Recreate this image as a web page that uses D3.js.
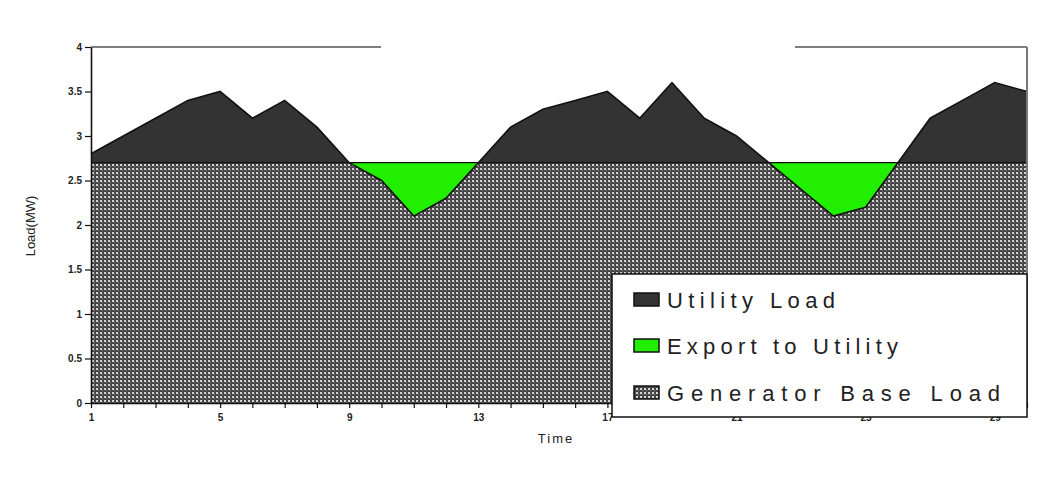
<!DOCTYPE html>
<html>
<head>
<meta charset="utf-8">
<script src="https://cdn.jsdelivr.net/npm/d3@7"></script>
<style>
  html, body { margin: 0; padding: 0; background: #fff; }
  svg { display: block; }
</style>
</head>
<body>
<svg id="chart" width="1064" height="484"></svg>
<script>
// ---- data ----
const timeSteps = d3.range(1, 31);
const utilityLoad = [2.8, 3.0, 3.2, 3.4, 3.5, 3.2, 3.4, 3.1, 2.7, 2.5,
                     2.1, 2.3, 2.7, 3.1, 3.3, 3.4, 3.5, 3.2, 3.6, 3.2,
                     3.0, 2.7, 2.4, 2.1, 2.2, 2.7, 3.2, 3.4, 3.6, 3.5];
const generatorBase = timeSteps.map(() => 2.7);
const yTicks = [0, 0.5, 1, 1.5, 2, 2.5, 3, 3.5, 4];
const xLabelTicks = [1, 5, 9, 13, 17, 21, 25, 29];
const legendLabels = ["Utility Load", "Export to Utility", "Generator Base Load"];

const data = timeSteps.map((t, i) => ({t, load: utilityLoad[i], base: generatorBase[i]}));

const svg = d3.select("#chart");
const x = d3.scaleLinear().domain([1, 30]).range([91, 1027]);
const y = d3.scaleLinear().domain([0, 4]).range([403, 47]);

const defs = svg.append("defs");
const pat = defs.append("pattern").attr("id", "dots")
  .attr("patternUnits", "userSpaceOnUse").attr("width", 4).attr("height", 4);
pat.append("rect").attr("width", 4).attr("height", 4).attr("fill", "#454545");
pat.append("rect").attr("x", 0).attr("y", 0).attr("width", 2).attr("height", 2).attr("fill", "#d4d4d4");
pat.append("rect").attr("x", 2).attr("y", 2).attr("width", 1).attr("height", 1).attr("fill", "#8a8a8a");

// Utility load (dark) area
svg.append("path").datum(data)
  .attr("d", d3.area().x(d => x(d.t)).y0(y(0)).y1(d => y(d.load)))
  .attr("fill", "#333");

// Generator base load (pattern)
svg.append("path").datum(data)
  .attr("d", d3.area().x(d => x(d.t)).y0(y(0)).y1(d => y(d.base)))
  .attr("fill", "url(#dots)");

// Export to utility (green)
svg.append("path").datum(data)
  .attr("d", d3.area().x(d => x(d.t)).y0(d => y(d.base)).y1(d => y(Math.min(d.load, d.base))))
  .attr("fill", "#22ee00");

// base line
svg.append("path").datum(data)
  .attr("d", d3.line().x(d => x(d.t)).y(d => y(d.base)))
  .attr("fill", "none").attr("stroke", "#111").attr("stroke-width", 1.2);

// load line
svg.append("path").datum(data)
  .attr("d", d3.line().x(d => x(d.t)).y(d => y(d.load)))
  .attr("fill", "none").attr("stroke", "#111").attr("stroke-width", 1.6);

// frame (top / right)
svg.append("line").attr("x1", 91).attr("x2", 381).attr("y1", 47).attr("y2", 47)
  .attr("stroke", "#555").attr("stroke-width", 1.3);
svg.append("line").attr("x1", 795).attr("x2", 1027).attr("y1", 47).attr("y2", 47)
  .attr("stroke", "#555").attr("stroke-width", 1.3);
svg.append("line").attr("x1", 1027).attr("x2", 1027).attr("y1", 47).attr("y2", 403)
  .attr("stroke", "#777").attr("stroke-width", 2);

// axes
const yAxis = svg.append("g").attr("transform", "translate(91,0)")
  .call(d3.axisLeft(y).tickValues(yTicks).tickSize(6).tickSizeOuter(0).tickPadding(3)
        .tickFormat(d => String(d)));
const xAxis = svg.append("g").attr("transform", "translate(0,403)")
  .call(d3.axisBottom(x).tickValues(timeSteps).tickSize(5).tickSizeOuter(0).tickPadding(6)
        .tickFormat(d => xLabelTicks.includes(d) ? String(d) : ""));
[yAxis, xAxis].forEach(g => {
  g.select(".domain").attr("stroke", "#111").attr("stroke-width", 1.6);
  g.selectAll(".tick line").attr("stroke", "#111").attr("stroke-width", 1.2);
  g.selectAll("text").attr("font-family", "Liberation Sans, Arial, sans-serif")
    .attr("font-size", 10).attr("font-weight", "bold").attr("fill", "#222");
});

// axis titles
svg.append("text").attr("transform", "translate(35,226) rotate(-90)")
  .attr("text-anchor", "middle").attr("font-family", "Liberation Sans, Arial, sans-serif")
  .attr("font-size", 13).attr("fill", "#222").text("Load(MW)");
svg.append("text").attr("x", 556).attr("y", 443)
  .attr("text-anchor", "middle").attr("font-family", "Liberation Sans, Arial, sans-serif")
  .attr("font-size", 13).attr("letter-spacing", 2).attr("fill", "#222").text("Time");

// legend
const lg = svg.append("g");
lg.append("rect").attr("x", 612).attr("y", 274).attr("width", 415).attr("height", 143)
  .attr("fill", "#fff").attr("stroke", "#111").attr("stroke-width", 1.5);
const swFills = ["#333", "#22ee00", "url(#dots)"];
const rowBase = [308, 354, 401];
const textLens = [168, 231, 333];
legendLabels.forEach((lab, i) => {
  lg.append("rect").attr("x", 634).attr("y", rowBase[i] - 15).attr("width", 25).attr("height", 13)
    .attr("fill", swFills[i]).attr("stroke", "#111").attr("stroke-width", 1.5);
  lg.append("text").attr("x", 667).attr("y", rowBase[i])
    .attr("font-family", "Liberation Sans, Arial, sans-serif").attr("font-size", 22)
    .attr("fill", "#222")
    .attr("textLength", textLens[i]).attr("lengthAdjust", "spacing")
    .text(lab);
});
</script>
</body>
</html>
